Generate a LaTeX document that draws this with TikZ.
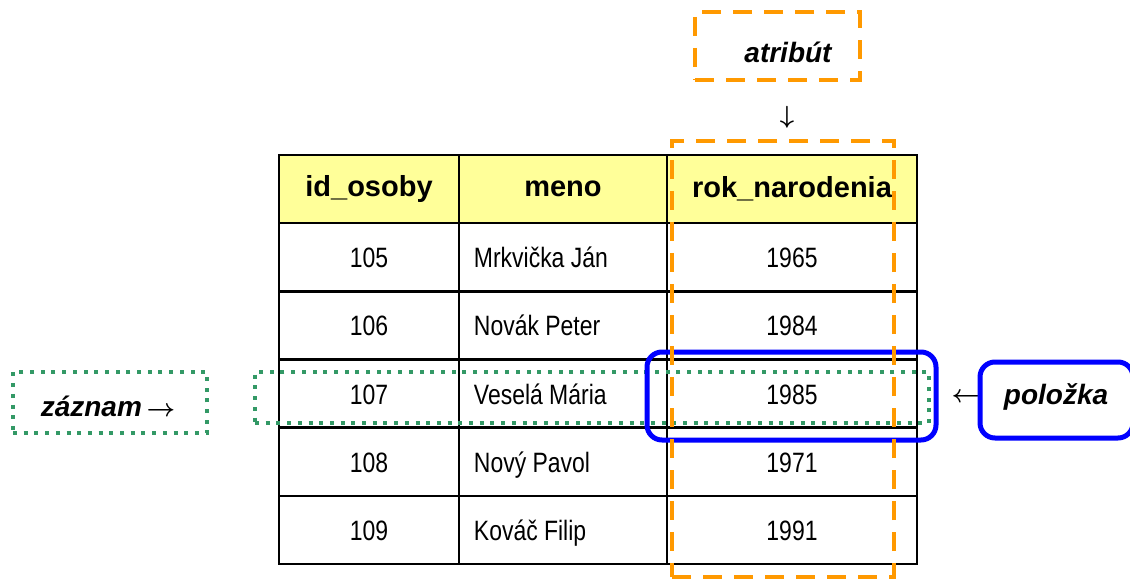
\documentclass[tikz,border=0pt]{standalone}
\usepackage{fontspec}
\setmainfont{Liberation Sans}
\newfontfamily\narrowfont[FakeStretch=0.82]{Liberation Sans}
\usetikzlibrary{arrows.meta}

\definecolor{headyellow}{HTML}{FFFF99}
\definecolor{attrorange}{HTML}{FF9900}
\definecolor{recgreen}{HTML}{339966}
\definecolor{itemblue}{HTML}{0000FF}

\tikzset{
    cell/.style={draw, line width=2.5pt, inner sep=0pt, minimum height=68pt},
    headcell/.style={cell, fill=headyellow, font=\fontsize{29}{34}\selectfont\bfseries},
    val/.style={font=\narrowfont\fontsize{28}{32}\selectfont, inner sep=0pt,
        text height=24pt, text depth=3pt},
    tag/.style={font=\fontsize{28}{32}\selectfont\bfseries\itshape, inner sep=0pt},
    glyph/.style={font=\fontsize{28}{32}\selectfont\boldmath, inner sep=0pt},
    orangebox/.style={draw=attrorange, line width=4pt, dash pattern=on 19pt off 12pt, inner sep=0pt},
    greenbox/.style={draw=recgreen, line width=4pt, dash pattern=on 4pt off 6.7pt, inner sep=0pt},
    bluebox/.style={draw=itemblue, line width=5pt, rounded corners=15pt, inner sep=0pt},
}

\begin{document}
\begin{tikzpicture}[x=1pt, y=-1pt]
\useasboundingbox (0,0) rectangle (1130,580);

% header row
\node[headcell, minimum width=180pt] (c-0-1) at (369,189) {id\_osoby};
\node[headcell, minimum width=208pt] (c-0-2) at (563,189) {meno};
\node[headcell, minimum width=250pt] (c-0-3) at (792,189) {rok\_narodenia};

% data rows
\foreach \r/\id/\who/\yr in {1/105/Mrkvička Ján/1965, 2/106/Novák Peter/1984,
    3/107/Veselá Mária/1985, 4/108/Nový Pavol/1971, 5/109/Kováč Filip/1991}
{
    \pgfmathsetmacro{\y}{189+68.2*\r}
    \node[cell, minimum width=180pt] (c-\r-1) at (369,\y) {};
    \node[cell, minimum width=208pt] (c-\r-2) at (563,\y) {};
    \node[cell, minimum width=250pt] (c-\r-3) at (792,\y) {};
    \node[val] (id-\r) at (c-\r-1) {\id};
    \node[val, anchor=west] (who-\r) at ([xshift=16pt]c-\r-2.west) {\who};
    \node[val] (yr-\r) at (c-\r-3) {\yr};
}

% record
\node[greenbox, minimum width=674pt, minimum height=51pt] (rec) at (592,397.5) {};
\node[greenbox, minimum width=194pt, minimum height=61pt] (zaznam) at (110,402.5) {};
\node[tag] (zaznamlbl) at (108,406) {záznam\,{\upshape\mdseries\boldmath$\rightarrow$}};

% item
\node[bluebox, minimum width=289pt, minimum height=88pt] (item) at (791.5,396) {};
\node[glyph] (itemarr) at (966,398) {$\leftarrow$};
\node[bluebox, minimum width=153pt, minimum height=76pt] (polozka) at (1056.5,400) {};
\node[tag] (polozkalbl) at (1056,397) {položka};

% attribute
\node[orangebox, minimum width=222pt, minimum height=436pt] (attrcol) at (783,359) {};
\node[orangebox, minimum width=165pt, minimum height=68pt] (atribut) at (777.5,46) {};
\node[tag] (atributlbl) at (788,52) {atribút};
\node[glyph] (attrarr) at (787,117) {$\downarrow$};
\end{tikzpicture}
\end{document}
